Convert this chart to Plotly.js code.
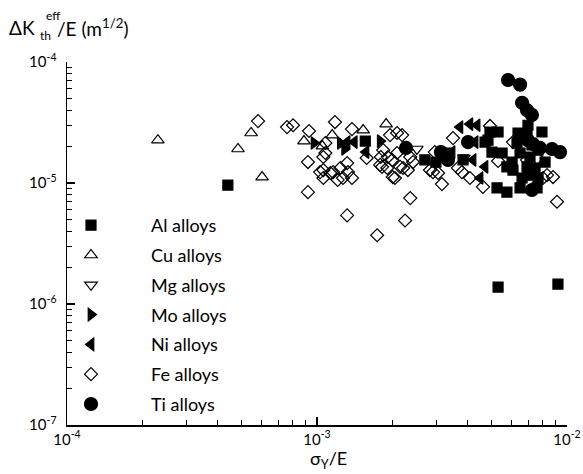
<!DOCTYPE html>
<html>
<head>
<meta charset="utf-8">
<script src="https://cdn.plot.ly/plotly-3.0.1.min.js"></script>
<style>html,body{margin:0;padding:0;background:#fff;}#chart{width:583px;height:474px;}</style>
</head>
<body>
<div id="chart"></div>
<script>
// ---- data (sigma_Y/E , dKth_eff/E) ----
const alX = [4.4e-4,1.56e-3,2.7e-3,3.34e-3,3.84e-3,4.7e-3,5.3e-3,9.2e-3,4.92e-3,5.3e-3,4.83e-3,6.37e-3,6.98e-3,7.94e-3,5.01e-3,5.5e-3,6.31e-3,6.49e-3,7.11e-3,7.24e-3,7.66e-3,8.17e-3,6.03e-3,5.75e-3,6.08e-3,6.92e-3,7.45e-3,6.98e-3,7.66e-3,6.61e-3,5.25e-3,5.75e-3,6.49e-3,7.59e-3,6.92e-3,2.99e-3];
const alY = [9.6e-6,2.22e-5,1.55e-5,1.77e-5,1.55e-5,2.18e-5,1.38e-6,1.46e-6,2.64e-5,2.64e-5,2.26e-5,2.59e-5,3.0e-5,2.64e-5,1.8e-5,1.77e-5,2.14e-5,1.77e-5,1.64e-5,2.06e-5,1.87e-5,1.49e-5,1.49e-5,1.36e-5,1.28e-5,1.36e-5,1.33e-5,1.16e-5,1.1e-5,1.1e-5,9.1e-6,8.4e-6,9.1e-6,9.1e-6,2.5e-5,1.49e-5];

const cuX = [2.31e-4,4.83e-4,5.45e-4,6.03e-4,8.87e-4,1.05e-3,1.15e-3,1.53e-3,1.89e-3];
const cuY = [2.26e-5,1.91e-5,2.59e-5,1.12e-5,2.22e-5,2.02e-5,2.49e-5,2.74e-5,3.07e-5];

const mgX = [2.51e-3,3.87e-3];
const mgY = [1.91e-5,1.61e-5];

const moX = [9.73e-4,1.24e-3,1.29e-3,1.79e-3];
const moY = [2.14e-5,2.14e-5,1.91e-5,2.22e-5];

const niX = [1.32e-3,1.41e-3,1.57e-3,3.73e-3,4.09e-3,4.37e-3,4.21e-3,4.49e-3,4.7e-3,3.47e-3,4.29e-3];
const niY = [2.18e-5,2.18e-5,1.8e-5,2.9e-5,3.07e-5,3.0e-5,1.55e-5,1.1e-5,1.36e-5,1.8e-5,2.18e-5];

const feX = [5.81e-4,7.59e-4,8.02e-4,9.29e-4,1.18e-3,1.38e-3,1.08e-3,1.96e-3,2.09e-3,1.08e-3,9.2e-4,1.58e-3,1.84e-3,1.92e-3,1.82e-3,2.01e-3,1.06e-3,1.16e-3,1.24e-3,1.32e-3,1.33e-3,1.38e-3,1.27e-3,1.06e-3,1.21e-3,1.13e-3,1.03e-3,9.2e-4,1.06e-3,1.32e-3,1.74e-3,2.36e-3,2.25e-3,3.16e-3,2.19e-3,2.09e-3,2.0e-3,2.36e-3,2.42e-3,2.21e-3,2.31e-3,2.05e-3,2.96e-3,2.83e-3,2.91e-3,3.05e-3,3.5e-3,3.66e-3,3.8e-3,4.09e-3,4.61e-3,4.92e-3,6.08e-3,5.3e-3,6.92e-3,7.59e-3,8.32e-3,8.79e-3,9.12e-3,8.02e-3,1.8e-3,1.79e-3,1.91e-3,2.15e-3];
const feY = [3.25e-5,2.9e-5,3.0e-5,2.69e-5,3.19e-5,2.79e-5,2.14e-5,2.49e-5,2.59e-5,1.77e-5,1.49e-5,1.61e-5,1.87e-5,1.64e-5,1.36e-5,1.12e-5,1.28e-5,1.23e-5,1.33e-5,1.46e-5,1.23e-5,1.1e-5,1.1e-5,1.1e-5,1.06e-5,1.21e-5,1.23e-5,8.4e-6,1.64e-5,5.4e-6,3.7e-6,7.5e-6,4.9e-6,9.8e-6,2.49e-5,1.77e-5,1.55e-5,1.64e-5,1.49e-5,1.33e-5,1.28e-5,1.1e-5,1.8e-5,1.28e-5,1.23e-5,1.21e-5,2.35e-5,1.33e-5,1.23e-5,1.1e-5,9.3e-6,2.96e-5,2.18e-5,1.52e-5,1.55e-5,1.61e-5,1.16e-5,1.12e-5,7.0e-6,1.1e-5,1.64e-5,1.41e-5,1.33e-5,1.36e-5];

const tiX = [5.81e-3,6.49e-3,6.61e-3,6.92e-3,7.24e-3,8.71e-3,9.38e-3,2.27e-3,3.13e-3,3.34e-3,4.02e-3,6.98e-3,7.31e-3,7.24e-3,7.8e-3];
const tiY = [7.1e-5,6.5e-5,4.6e-5,4.0e-5,3.65e-5,1.91e-5,1.8e-5,1.95e-5,1.8e-5,1.55e-5,2.18e-5,2.26e-5,2.1e-5,8.75e-6,1.95e-5];

const seriesNames = ['Al alloys','Cu alloys','Mg alloys','Mo alloys','Ni alloys','Fe alloys','Ti alloys'];
const xMajor = [1e-4,1e-3,1e-2];
const xMajorText = ['10<sup>-4</sup>','10<sup>-3</sup>','10<sup>-2</sup>'];
const yMajor = [1e-7,1e-6,1e-5,1e-4];
const yMajorText = ['10<sup>-7</sup>','10<sup>-6</sup>','10<sup>-5</sup>','10<sup>-4</sup>'];

// ---- build ----
function minorVals(lo, hi){ const v=[]; for(let e=lo;e<hi;e++){ for(let m=2;m<=9;m++){ v.push(m*Math.pow(10,e)); } } return v; }
const FONT = 'Lato, "Noto Sans", "DejaVu Sans", sans-serif';
const sets = [
  [alX, alY, 'square', 10],
  [cuX, cuY, 'triangle-up-open', 11],
  [mgX, mgY, 'triangle-down-open', 11],
  [moX, moY, 'triangle-right', 11],
  [niX, niY, 'triangle-left', 11],
  [feX, feY, 'diamond-open', 10],
  [tiX, tiY, 'circle', 13]
];
const traces = sets.map((s, i) => ({
  type: 'scatter', mode: 'markers', x: s[0], y: s[1],
  name: seriesNames[i], legendgroup: 'g' + i,
  marker: { symbol: s[2], size: s[3], color: 'black', line: { color: 'black', width: 1.2 } },
  cliponaxis: false
}));

const axisCommon = {
  type: 'log', showgrid: false, zeroline: false, showline: true, linecolor: 'black', linewidth: 1.5,
  ticks: 'inside', ticklen: 8, tickwidth: 1.2, tickcolor: 'black', mirror: false,
  tickfont: { family: FONT, size: 15, color: 'black' }
};

const layout = {
  width: 583, height: 474,
  margin: { l: 67, r: 16, t: 62, b: 49 },
  paper_bgcolor: 'white', plot_bgcolor: 'white',
  font: { family: FONT, color: 'black' },
  showlegend: true,
  legend: {
    x: -0.072, y: 0.6006, xanchor: 'left', yanchor: 'top',
    font: { family: FONT, size: 18, color: 'black' },
    bgcolor: 'rgba(0,0,0,0)', borderwidth: 0,
    tracegroupgap: 3.4, itemwidth: 110
  },
  xaxis: Object.assign({}, axisCommon, {
    range: [-4, -2], tickvals: xMajor, ticktext: xMajorText,
    minor: { tickvals: minorVals(-4, -2), ticks: 'inside', ticklen: 5, tickwidth: 1, tickcolor: 'black', showgrid: false }
  }),
  yaxis: Object.assign({}, axisCommon, {
    range: [-7, -4], tickvals: yMajor, ticktext: yMajorText, ticklabelstandoff: 6,
    minor: { tickvals: minorVals(-7, -4), ticks: 'inside', ticklen: 5, tickwidth: 1, tickcolor: 'black', showgrid: false }
  }),
  annotations: [
    { xref: 'paper', yref: 'paper', x: -0.12, y: 1.094, xanchor: 'left', yanchor: 'middle', showarrow: false,
      text: 'ΔK', font: { family: FONT, size: 19, color: 'black' } },
    { xref: 'paper', yref: 'paper', x: -0.046, y: 1.127, xanchor: 'left', yanchor: 'middle', showarrow: false,
      text: 'eff', font: { family: FONT, size: 12, color: 'black' } },
    { xref: 'paper', yref: 'paper', x: -0.058, y: 1.073, xanchor: 'left', yanchor: 'middle', showarrow: false,
      text: 'th', font: { family: FONT, size: 12, color: 'black' } },
    { xref: 'paper', yref: 'paper', x: -0.024, y: 1.094, xanchor: 'left', yanchor: 'middle', showarrow: false,
      text: '/E (m<sup>1/2</sup>)', font: { family: FONT, size: 19, color: 'black' } },
    { xref: 'paper', yref: 'paper', x: 0.522, y: -0.094, xanchor: 'center', yanchor: 'middle', showarrow: false,
      text: 'σ<sub>Y</sub>/E', font: { family: FONT, size: 18, color: 'black' } }
  ]
};

Plotly.newPlot('chart', traces, layout, { staticPlot: true, displayModeBar: false });
</script>
</body>
</html>
